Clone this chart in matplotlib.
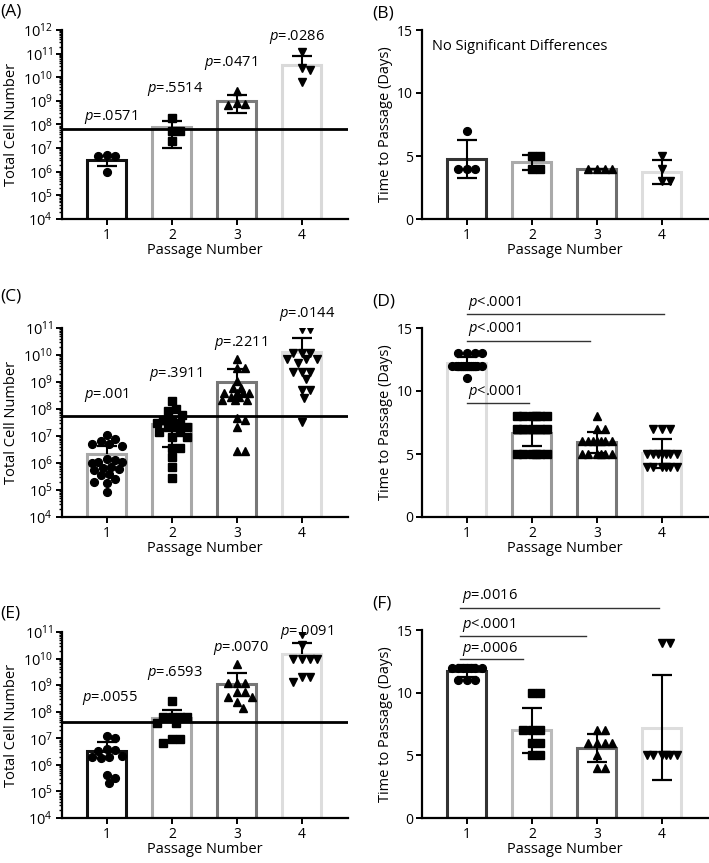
import numpy as np
import matplotlib
matplotlib.use("Agg")
import matplotlib.pyplot as plt
from matplotlib.ticker import FixedLocator, NullFormatter, LogFormatterSciNotation

plt.rcParams['font.family'] = ['Open Sans', 'DejaVu Sans']
plt.rcParams['mathtext.fontset'] = 'custom'
plt.rcParams['mathtext.rm'] = 'Open Sans'
plt.rcParams['mathtext.it'] = 'Open Sans:italic'
plt.rcParams['font.size'] = 10

passages = [1, 2, 3, 4]
markers = ['o', 's', '^', 'v']

# (A) total cell number, small cohort
a_points = [
    [4.5e6, 4.5e6, 5.2e6, 1.0e6],
    [1.8e8, 5.5e7, 5.5e7, 2.0e7],
    [2.5e9, 7.5e8, 8.0e8, 7.0e8],
    [1.2e11, 2.4e10, 2.0e10, 6.4e9],
]
a_mean = [3.3e6, 7.5e7, 1.0e9, 3.3e10]
a_sd = [1.5e6, 6.5e7, 7.0e8, 4.9e10]
a_line = 6.3e7
a_pvals = ['=.0571', '=.5514', '=.0471', '=.0286']

# (B) time to passage, small cohort
b_points = [[7, 4, 4, 4], [5, 5, 4, 4], [4, 4, 4, 4], [5, 4, 3, 3]]
b_mean = [4.75, 4.5, 4.0, 3.75]
b_sd = [1.5, 0.58, 0.0, 0.96]

# (C) total cell number
c_points = [
    [1.1e7, 7.6e6, 6.5e6, 5.0e6, 5.0e6, 4.3e6, 1.4e6, 1.3e6, 1.1e6, 1.1e6, 1.0e6,
     7.2e5, 6.3e5, 6.0e5, 5.5e5, 3.9e5, 3.5e5, 2.5e5, 2.0e5, 1.8e5, 8.5e4],
    [1.9e8, 9.8e7, 8.7e7, 6.0e7, 3.9e7, 3.9e7, 3.0e7, 3.0e7, 2.1e7, 2.1e7, 2.1e7,
     1.45e7, 1.45e7, 9.3e6, 9.3e6, 3.5e6, 3.5e6, 1.7e6, 7.2e5, 2.7e5],
    [6.9e9, 3.2e9, 3.2e9, 1.1e9, 5.9e8, 5.9e8, 4.0e8, 4.0e8, 4.0e8, 4.0e8, 2.9e8,
     2.9e8, 2.1e8, 2.1e8, 2.1e8, 4.6e7, 3.9e7, 2.1e7, 2.9e6, 2.9e6],
    [8.9e10, 8.9e10, 1.15e10, 1.15e10, 1.15e10, 6.9e9, 6.9e9, 6.9e9, 4.9e9, 2.4e9,
     2.4e9, 2.4e9, 1.3e9, 5.0e8, 5.0e8, 2.5e8, 3.4e7],
]
c_mean = [2.1e6, 2.8e7, 1.0e9, 1.3e10]
c_sd = [2.3e6, 2.4e7, 2.0e9, 2.8e10]
c_line = 5.4e7
c_pvals = ['=.001', '=.3911', '=.2211', '=.0144']

# (D) time to passage
d_points = [
    [13] * 4 + [12] * 13 + [11],
    [8] * 6 + [7] * 5 + [5] * 6,
    [8] + [7] * 2 + [6] * 7 + [5] * 6,
    [7] * 3 + [5] * 7 + [4] * 6,
]
d_mean = [12.2, 6.69, 5.93, 5.05]
d_sd = [0.5, 1.05, 0.85, 1.15]
d_brackets = ['<.0001', '<.0001', '<.0001']

# (E) total cell number
e_points = [
    [1.23e7, 1.05e7, 4.0e6, 3.6e6, 3.3e6, 2.2e6, 2.0e6, 1.9e6, 1.8e6, 4.2e5, 3.3e5, 2.1e5],
    [2.5e8, 6.2e7, 6.2e7, 6.2e7, 6.2e7, 3.9e7, 3.9e7, 9.1e6, 9.1e6, 6.5e6],
    [6.3e9, 1.2e9, 1.2e9, 1.2e9, 5.6e8, 5.6e8, 3.7e8, 3.7e8, 2.4e8, 1.35e8],
    [8.3e10, 3.2e10, 9.3e9, 9.3e9, 9.3e9, 9.3e9, 2.0e9, 2.0e9, 1.35e9],
]
e_mean = [3.2e6, 5.6e7, 1.07e9, 1.45e10]
e_sd = [4.2e6, 6.4e7, 1.9e9, 2.5e10]
e_line = 4.2e7
e_pvals = ['=.0055', '=.6593', '=.0070', '=.0091']

# (F) time to passage
f_points = [
    [12] * 7 + [11] * 3,
    [10] * 2 + [7] * 3 + [6] * 2 + [5] * 2,
    [7] * 2 + [6] * 4 + [5] + [4] * 2,
    [14] * 2 + [5] * 6,
]
f_mean = [11.7, 7.0, 5.6, 7.2]
f_sd = [0.48, 1.8, 1.1, 4.2]
f_brackets = ['=.0006', '<.0001', '=.0016']

W, H = 709, 863
fig = plt.figure(figsize=(W / 100, H / 100), dpi=100)


def make_axes(left, top, right, bottom):
    return fig.add_axes([left / W, 1 - bottom / H, (right - left) / W, (bottom - top) / H])


def style_axes(ax, ylabel, decades=None):
    for s in ['top', 'right']:
        ax.spines[s].set_visible(False)
    for s in ['left', 'bottom']:
        ax.spines[s].set_linewidth(1.6)
    ax.set_xlim(0.31, 4.71)
    ax.set_xticks(passages)
    ax.tick_params(which='major', length=4.5, width=1.4, labelsize=10, pad=2)
    if decades is not None:
        lo, hi = decades
        ax.set_yscale('log')
        ax.set_ylim(10.0 ** lo, 10.0 ** hi)
        ax.yaxis.set_major_locator(FixedLocator([10.0 ** k for k in range(lo, hi + 1)]))
        ax.yaxis.set_major_formatter(LogFormatterSciNotation())
        minors = [m * 10.0 ** k for k in range(lo, hi) for m in range(2, 10)]
        ax.yaxis.set_minor_locator(FixedLocator(minors))
        ax.yaxis.set_minor_formatter(NullFormatter())
        ax.tick_params(axis='y', which='minor', length=2.5, width=1.0)
        ax.tick_params(axis='y', which='major', labelsize=10.5)
    else:
        ax.set_ylim(0, 15)
        ax.set_yticks([0, 5, 10, 15])
    ax.set_xlabel('Passage Number', fontsize=10.5, labelpad=0)
    ax.set_ylabel(ylabel, fontsize=10.5, labelpad=3)


def swarm(ax, xc, vals, d_px=8.4, max_px=16.0):
    vals = np.asarray(vals, dtype=float)
    disp = ax.transData.transform(np.column_stack([np.full(len(vals), xc), vals]))
    x0 = disp[0, 0]
    ys = disp[:, 1]
    step = d_px / 4
    cands = [0.0]
    k = 1
    while k * step <= max_px:
        cands += [k * step, -k * step]
        k += 1
    offs = np.zeros(len(vals))
    placed = []
    for i in np.argsort(-ys):
        best, best_d = 0.0, -1
        for o in cands:
            if not placed:
                best = o
                break
            dmin = min(np.hypot(o - px, ys[i] - py) for px, py in placed)
            if dmin >= d_px * 0.97:
                best = o
                break
            if dmin > best_d + 0.3:
                best_d, best = dmin, o
        placed.append((best, ys[i]))
        offs[i] = best
    back = ax.transData.inverted().transform(np.column_stack([x0 + offs, ys]))
    return back[:, 0]


def draw_err(ax, x, m, s, log):
    hi = m + s
    lo = m - s
    has_lo = not (log and lo <= 0)
    if not has_lo:
        lo = m
    ax.plot([x, x], [lo, hi], color='black', lw=1.5, zorder=5, solid_capstyle='butt')
    ax.plot([x], [hi], marker='_', ms=14, mew=1.6, color='black', zorder=5)
    if has_lo:
        ax.plot([x], [lo], marker='_', ms=14, mew=1.6, color='black', zorder=5)


def draw_panel(ax, pts, mean, sd, edges, log):
    ax.bar(passages, mean, width=0.6, color='white', edgecolor=edges, linewidth=2.2, zorder=1)
    for i, x in enumerate(passages):
        xs = swarm(ax, x, pts[i])
        ms = 5.6 if markers[i] in ('o', 's') else 6.2
        ax.plot(xs, pts[i], ls='none', marker=markers[i], ms=ms, color='black',
                mec='black', zorder=4)
        draw_err(ax, x, mean[i], sd[i], log)


def p_texts(ax, labels, xs, ys):
    for lab, x, y in zip(labels, xs, ys):
        ax.text(x, y, '$p$' + lab, ha='center', va='center', fontsize=10.5, clip_on=False)


def brackets(ax, labels, x0, x1s, ys, tx, tys):
    for lab, x1, y, ty in zip(labels, x1s, ys, tys):
        ax.plot([x0, x1], [y, y], color='#333333', lw=1.0, clip_on=False, zorder=6)
        ax.text(tx, ty, '$p$' + lab, ha='left', va='center', fontsize=10.5, clip_on=False)


gray_sets = {
    'A': ['#111111', '#a8a8a8', '#7a7a7a', '#d9d9d9'],
    'B': ['#333333', '#aaaaaa', '#6e6e6e', '#dddddd'],
    'C': ['#a8a8a8', '#a8a8a8', '#777777', '#dddddd'],
    'D': ['#dddddd', '#999999', '#777777', '#dddddd'],
    'E': ['#111111', '#aaaaaa', '#777777', '#dddddd'],
    'F': ['#333333', '#bbbbbb', '#666666', '#dddddd'],
}

# row 1
axA = make_axes(62, 30, 348, 219)
style_axes(axA, 'Total Cell Number', (4, 12))
draw_panel(axA, a_points, a_mean, a_sd, gray_sets['A'], True)
axA.axhline(a_line, color='black', lw=2.0, zorder=3)
p_texts(axA, a_pvals, [1.05, 2.05, 2.9, 3.92], [10**8.33, 10**9.49, 10**10.62, 10**11.72])

axB = make_axes(422, 30, 708, 219)
style_axes(axB, 'Time to Passage (Days)')
draw_panel(axB, b_points, b_mean, b_sd, gray_sets['B'], False)
axB.text(0.035, 0.915, 'No Significant Differences', transform=axB.transAxes,
         ha='left', va='center', fontsize=10.5)

# row 2
axC = make_axes(62, 328, 348, 517)
style_axes(axC, 'Total Cell Number', (4, 11))
draw_panel(axC, c_points, c_mean, c_sd, gray_sets['C'], True)
axC.axhline(c_line, color='black', lw=2.0, zorder=3)
p_texts(axC, c_pvals, [1.0, 2.05, 3.05, 4.08], [10**8.51, 10**9.28, 10**10.44, 10**11.53])

axD = make_axes(422, 328, 708, 517)
style_axes(axD, 'Time to Passage (Days)')
draw_panel(axD, d_points, d_mean, d_sd, gray_sets['D'], False)
brackets(axD, d_brackets[::-1], 1.0, [4.03, 2.9, 1.95], [16.1, 14.0, 9.02], 1.02,
         [16.95, 14.9, 9.94])

# row 3
axE = make_axes(62, 632, 348, 818)
style_axes(axE, 'Total Cell Number', (4, 11))
draw_panel(axE, e_points, e_mean, e_sd, gray_sets['E'], True)
axE.axhline(e_line, color='black', lw=2.0, zorder=3)
p_texts(axE, e_pvals, [1.05, 2.05, 3.06, 4.07], [10**8.5, 10**9.46, 10**10.41, 10**11.0])

axF = make_axes(422, 630, 708, 818)
style_axes(axF, 'Time to Passage (Days)')
draw_panel(axF, f_points, f_mean, f_sd, gray_sets['F'], False)
brackets(axF, f_brackets[::-1], 0.9, [3.95, 2.83, 1.86], [16.78, 14.52, 12.66], 0.93,
         [17.7, 15.4, 13.46])

# panel letters
for lab, px, py in [('(A)', 0, 11), ('(B)', 372, 14), ('(C)', 0, 296),
                    ('(D)', 372, 302), ('(E)', 0, 613), ('(F)', 372, 604)]:
    fig.text(px / W + 0.001, 1 - py / H, lab, ha='left', va='center', fontsize=12.5)

fig.savefig('out.png', dpi=100)
